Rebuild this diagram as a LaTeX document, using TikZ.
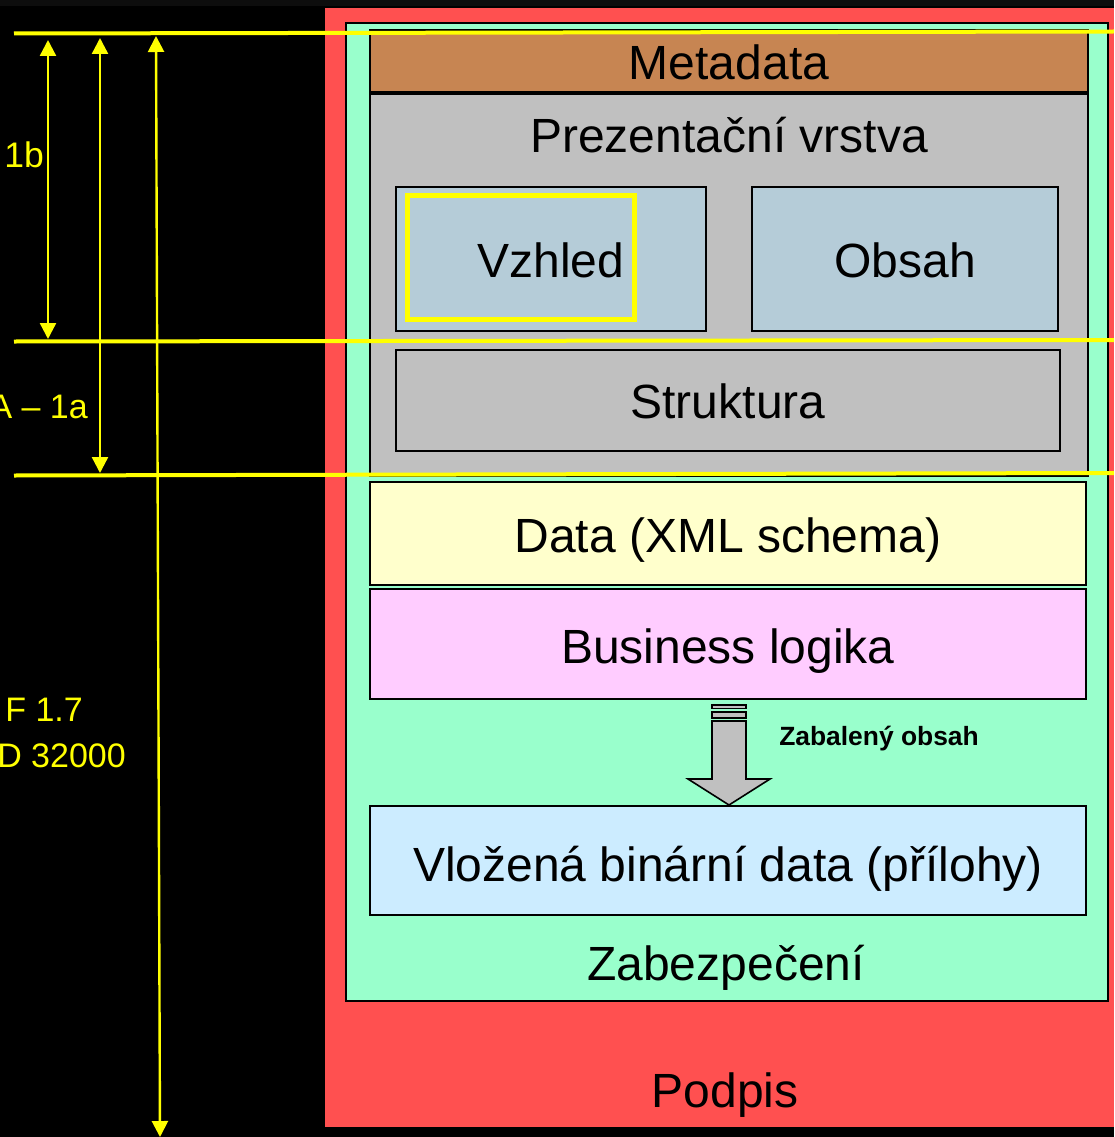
\documentclass[tikz,border=0pt]{standalone}
\usepackage{fontspec}
\setmainfont{Liberation Sans}
\usetikzlibrary{arrows.meta}
\definecolor{redbg}{HTML}{FF5050}
\definecolor{greenbg}{HTML}{99FFCC}
\definecolor{brownbg}{HTML}{C78552}
\definecolor{graybg}{HTML}{C0C0C0}
\definecolor{bluebg}{HTML}{B5CCD8}
\definecolor{creambg}{HTML}{FFFFCC}
\definecolor{pinkbg}{HTML}{FFCCFF}
\definecolor{skybg}{HTML}{CCECFF}
\definecolor{linkyellow}{HTML}{FFFF00}
\tikzset{
  panel/.style={draw=black,line width=1.6pt,inner sep=0pt,outer sep=0pt},
  big/.style={font=\fontsize{48}{50}\selectfont,text=black,inner sep=0pt,anchor=base},
  side/.style={font=\fontsize{34}{36}\selectfont,text=linkyellow,inner sep=0pt,anchor=base east},
  level/.style={draw=linkyellow,line width=4pt},
  span/.style={draw=linkyellow,line width=2.4pt,{Triangle[length=16pt,width=16pt]}-{Triangle[length=16pt,width=16pt]}},
}
\newcommand{\pbox}[6]{\node[panel,fill=#2,minimum width=#5pt-#3pt,minimum height=#6pt-#4pt,anchor=north west] (#1) at (#3,#4) {};}
\begin{document}
\begin{tikzpicture}[x=1pt,y=-1pt]
\useasboundingbox (0,0) rectangle (1114,1137);
\clip (0,0) rectangle (1114,1137);
\fill[black] (0,0) rectangle (1114,1137);
\fill[black!95!white] (0,0) rectangle (1114,6);
\node[fill=redbg,draw=none,inner sep=0pt,minimum width=789pt,minimum height=1119pt,anchor=north west] (sign) at (325,8) {};
\pbox{sec}{greenbg}{346}{23}{1108}{1001}
\pbox{meta}{brownbg}{370}{30}{1088}{92}
\pbox{pres}{graybg}{370}{94}{1088}{476}
\pbox{look}{bluebg}{396}{187}{706}{331}
\pbox{cont}{bluebg}{752}{187}{1058}{331}
\pbox{stru}{graybg}{396}{350}{1060}{451}
\pbox{data}{creambg}{370}{482}{1086}{585}
\pbox{biz}{pinkbg}{370}{589}{1086}{699}
\pbox{bin}{skybg}{370}{806}{1086}{915}
\draw[linkyellow,line width=5pt] (407.5,195) rectangle (634.5,319.5);
\draw[panel,fill=graybg] (712,705) rectangle (746,708.5);
\draw[panel,fill=graybg] (712,712) rectangle (746,718);
\draw[panel,fill=graybg,line join=miter] (712,721) -- (746,721) -- (746,779) -- (770,779) -- (729,805) -- (688,779) -- (712,779) -- cycle;
\node[big] (tmeta) at (729,80) {Metadata};
\node[big] (tpres) at (729,152) {Prezentační vrstva};
\node[big] (tlook) at (551,277.5) {Vzhled};
\node[big] (tcont) at (905,277.5) {Obsah};
\node[big] (tstru) at (728,418.5) {Struktura};
\node[big] (tdata) at (728,552) {Data (XML schema)};
\node[big] (tbiz) at (728,663) {Business logika};
\node[big] (tbin) at (728,881) {Vložená binární data (přílohy)};
\node[big] (tsec) at (726,980) {Zabezpečení};
\node[big] (tsign) at (725,1107) {Podpis};
\node[font=\bfseries\fontsize{26.4}{28}\selectfont,text=black,inner sep=0pt,anchor=base] (tzip) at (879,745) {Zabalený obsah};
\coordinate (l1a) at (14,33.5); \coordinate (l1b) at (1114,31.5);
\coordinate (l2a) at (14,341.5); \coordinate (l2b) at (1114,340);
\coordinate (l3a) at (14,475.5); \coordinate (l3b) at (1114,473);
\draw[level] (l1a) -- (l1b);
\draw[level] (l2a) -- (l2b);
\draw[level] (l3a) -- (l3b);
\coordinate (a1t) at (48,40); \coordinate (a1b) at (48,339);
\coordinate (a2t) at (100,38); \coordinate (a2b) at (100,473);
\coordinate (a3t) at (156,36); \coordinate (a3b) at (160,1137);
\draw[span] (a1t) -- (a1b);
\draw[span] (a2t) -- (a2b);
\draw[span] (a3t) -- (a3b);
\node[side,font=\fontsize{35.5}{38}\selectfont] (s1) at (44,167) {1b};
\node[side] (s2) at (88,418) {A – 1a};
\node[side] (s3) at (83,721) {F 1.7};
\node[side] (s4) at (126,767) {D 32000};
\end{tikzpicture}
\end{document}
